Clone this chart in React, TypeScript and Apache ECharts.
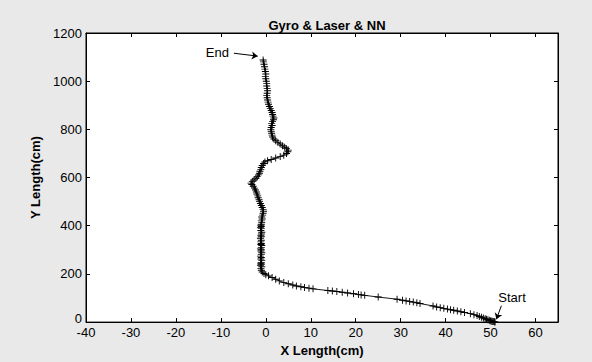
import React, { useEffect, useRef } from "react";
import * as echarts from "echarts";

const titleText = "Gyro & Laser & NN";
const xName = "X Length(cm)";
const yName = "Y Length(cm)";

// trajectory, from Start to End
const xValues = [
  51.0, 50.9, 50.7, 50.5, 50.3, 50.1, 49.9, 49.7, 49.4, 49.1, 48.8, 48.4, 48.0, 47.5, 47.0, 46.3, 45.5,
  44.2, 43.4, 42.6, 41.8, 41.1, 40.4, 39.6, 38.8, 38.0, 37.2, 34.3, 33.6, 32.8, 32.0, 31.2, 30.4, 29.2,
  25.0, 22.0, 21.2, 20.6, 19.5, 18.2, 17.0, 15.8, 14.8, 13.8, 10.5, 9.6, 8.6, 7.8, 6.8, 6.0, 5.0, 4.0,
  3.0, 2.2, 1.4, 0.6, 0.0, -0.4, -0.8, -1.0,
  -1.1, -0.9, -1.2, -1.0, -1.1, -1.0, -0.9, -1.1, -1.0, -1.2, -1.0, -0.9, -1.1, -1.0, -1.2, -1.0, -0.9,
  -1.1, -1.0, -1.1, -1.0, -1.2, -1.0, -1.1, -1.0, -0.9, -1.1, -1.0, -1.2, -1.0, -1.1, -1.0, -0.9, -1.0,
  -0.8, -0.9, -0.7, -0.6, -0.5, -0.6, -0.8, -1.0, -1.2, -1.4, -1.5, -1.7, -1.8, -2.0, -2.1, -2.3, -2.5,
  -2.8, -3.1, -3.3, -3.0, -2.6, -2.2, -1.9, -1.6, -1.4, -1.3, -1.1, -1.0, -0.8, -0.5, -0.2, 0.4, 1.2,
  2.2, 3.2, 4.0, 4.6, 4.9, 5.0, 4.6, 4.2, 3.7, 3.2, 2.7, 2.2, 1.8, 1.5, 1.4, 1.3, 1.2, 1.1, 1.2, 1.4,
  1.3, 1.5, 1.7, 1.8, 1.6, 1.5, 1.4, 1.2, 1.0, 0.8, 0.6, 0.5, 0.4, 0.3, 0.2, 0.3, 0.4, 0.3, 0.2, 0.2,
  0.1, 0.0, -0.1, 0.0, -0.1, -0.2, -0.3, -0.4, -0.5, -0.6,
];
const yValues = [
  0, 1, 2, 3, 4, 5, 6, 8, 10, 12, 14, 17, 20, 23, 27, 31, 35,
  40, 43, 46, 49, 51, 54, 57, 60, 63, 67, 77, 80, 83, 86, 88, 91, 95,
  104, 111, 113, 115, 118, 121, 124, 127, 129, 131, 138, 141, 144, 147, 150, 154, 159, 164,
  171, 178, 185, 192, 197, 202, 208, 215,
  222, 230, 236, 240, 244, 248, 255, 262, 268, 274, 280, 288, 295, 300, 304, 310, 318,
  322, 326, 333, 340, 348, 354, 360, 366, 373, 380, 388, 393, 397, 402, 406, 413, 420,
  428, 436, 444, 452, 460, 468, 476, 484, 492, 500, 508, 516, 524, 532, 540, 548, 556,
  564, 571, 577, 584, 590, 597, 604, 611, 618, 626, 634, 642, 650, 658, 665, 670, 675,
  681, 687, 693, 700, 707, 714, 720, 726, 732, 739, 746, 753, 760, 768, 776, 784, 792, 800, 808, 816,
  824, 832, 840, 847, 855, 862, 870, 878, 886, 895, 904, 913, 922, 931, 940, 950, 960, 970, 980, 990,
  1000, 1010, 1020, 1030, 1040, 1050, 1060, 1070, 1080, 1088,
];

// annotations
const endArrow = { label: "End", from: [-7.1, 1116], to: [-1.8, 1104] };
const startArrow = { label: "Start", from: [52.4, 68], to: [51.3, 12] };

const xMin = -40;
const xMax = 65;
const xStep = 10;
const yMin = 0;
const yMax = 1200;
const yStep = 200;

const FONT = 'Arial, "Liberation Sans", Helvetica, sans-serif';
const PLUS = "path://M0,4.35H10V5.65H0Z M4.35,0H5.65V10H4.35Z";

export default function App() {
  const ref = useRef<HTMLDivElement>(null);
  useEffect(() => {
    if (!ref.current) return;
    const chart = echarts.init(ref.current, undefined, { renderer: "svg" });
    const points = xValues.map((x, i) => [x, yValues[i]]);
    const axisCommon = {
      type: "value" as const,
      axisLine: { show: true, onZero: false, lineStyle: { color: "#000", width: 1 } },
      axisTick: { show: true, inside: true, length: 4, lineStyle: { color: "#000" } },
      splitLine: { show: false },
    };
    chart.setOption({
      animation: false,
      backgroundColor: "#e9e9e9",
      textStyle: { fontFamily: FONT },
      title: {
        text: titleText,
        left: 322,
        top: 14,
        textAlign: "center",
        textStyle: { fontSize: 13, fontWeight: "bold", color: "#000", fontFamily: FONT },
      },
      grid: {
        left: 86,
        right: 34,
        top: 33,
        bottom: 34,
        show: true,
        backgroundColor: "#fff",
        borderColor: "#000",
        borderWidth: 1,
      },
      xAxis: [
        {
          ...axisCommon,
          position: "bottom",
          min: xMin,
          max: xMax,
          interval: xStep,
          name: xName,
          nameLocation: "middle",
          nameGap: 19,
          nameTextStyle: { fontSize: 13, fontWeight: "bold", color: "#000", fontFamily: FONT },
          axisLabel: { color: "#000", fontSize: 13, margin: 4, showMaxLabel: false, fontFamily: FONT },
        },
        {
          ...axisCommon,
          position: "top",
          min: xMin,
          max: xMax,
          interval: xStep,
          axisLabel: { show: false },
        },
      ],
      yAxis: [
        {
          ...axisCommon,
          position: "left",
          min: yMin,
          max: yMax,
          interval: yStep,
          name: yName,
          nameLocation: "middle",
          nameGap: 42,
          nameTextStyle: { fontSize: 13, fontWeight: "bold", color: "#000", fontFamily: FONT },
          axisLabel: {
            color: "#000",
            fontSize: 13,
            margin: 4,
            fontFamily: FONT,
            formatter: (v: number) => (v === 0 ? "{z|0}" : String(v)),
            rich: { z: { fontSize: 13, color: "#000", padding: [0, 0, 7, 0], fontFamily: FONT } },
          },
        },
        {
          ...axisCommon,
          position: "right",
          min: yMin,
          max: yMax,
          interval: yStep,
          axisLabel: { show: false },
        },
      ],
      series: [
        {
          type: "line",
          data: points,
          xAxisIndex: 0,
          yAxisIndex: 0,
          showAllSymbol: true,
          symbol: PLUS,
          symbolSize: 7,
          itemStyle: { color: "#000" },
          lineStyle: { color: "#000", width: 0.9 },
          markLine: {
            silent: true,
            animation: false,
            symbol: ["none", "arrow"],
            symbolSize: 6,
            lineStyle: { color: "#000", width: 1, type: "solid" },
            label: { show: true, color: "#000", fontSize: 13, fontFamily: FONT },
            data: [
              [
                {
                  coord: endArrow.from,
                  label: { position: "start", formatter: endArrow.label, distance: 5 },
                },
                { coord: endArrow.to },
              ],
              [
                {
                  coord: startArrow.from,
                  label: { position: "start", formatter: startArrow.label, distance: 2, offset: [10, 0] },
                },
                { coord: startArrow.to },
              ],
            ],
          },
        },
      ],
    });
    return () => chart.dispose();
  }, []);
  return (
    <div
      ref={ref}
      style={{ position: "fixed", left: 0, top: 0, width: 592, height: 362 }}
    />
  );
}
